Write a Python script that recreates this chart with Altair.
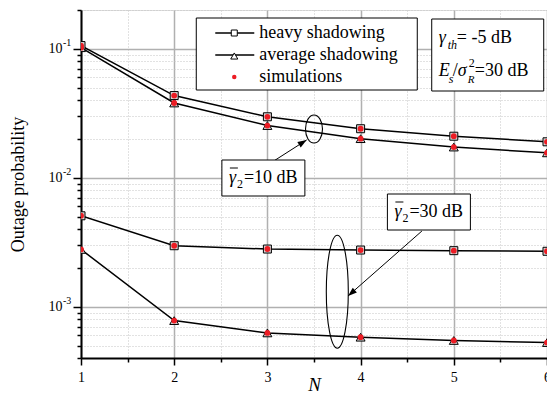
import altair as alt
import pandas as pd

# ---------------- data ----------------
N = [1, 2, 3, 4, 5, 6]
heavy_10 = [0.106, 0.0434, 0.0297, 0.0240, 0.0210, 0.0190]
average_10 = [0.102, 0.0380, 0.0254, 0.0201, 0.0173, 0.0156]
heavy_30 = [0.00507, 0.00297, 0.00280, 0.00275, 0.00272, 0.00269]
average_30 = [0.00278, 0.00078, 0.000626, 0.00058, 0.000547, 0.000527]

x_ticks = [1, 1.5, 2, 2.5, 3, 3.5, 4, 4.5, 5, 5.5, 6]
decades = [0.001, 0.01, 0.1]
decade_exp = ["-3", "-2", "-1"]
y_ticks = [0.0004, 0.0005, 0.0006, 0.0007, 0.0008, 0.0009,
           0.001, 0.002, 0.003, 0.004, 0.005, 0.006, 0.007, 0.008, 0.009,
           0.01, 0.02, 0.03, 0.04, 0.05, 0.06, 0.07, 0.08, 0.09,
           0.1, 0.2]

legend_labels = ["heavy shadowing", "average shadowing", "simulations"]

# annotation anchors (data coordinates)
ell_N = [3.5, 3.75]
ell_p = [0.02386, 0.001306]
arrow_N = [3.051, 4.658]
arrow_p = [0.01324, 0.003864]
arrow_N2 = [3.421, 3.865]
arrow_p2 = [0.01963, 0.001211]
arrow_angle = [57.8, 229.1]

SERIF = "Liberation Serif"
RED = "#ec1c24"

rows = []
for name, vals, model in [("h10", heavy_10, "heavy"), ("a10", average_10, "average"),
                          ("h30", heavy_30, "heavy"), ("a30", average_30, "average")]:
    for n, v in zip(N, vals):
        rows.append({"N": n, "p": v, "model": model, "curve": name})
df = pd.DataFrame(rows)

W, H = 466, 348
OX, OY = 81, 10  # plot origin on the page


def X(x):
    return OX + (x - OX) * W / 473.0


xscale = alt.Scale(domain=[1, 6], nice=False, zero=False)
yscale = alt.Scale(type="log", domain=[0.0004, 0.2], nice=False)

xmaj = "datum.value % 1 == 0"
ymaj = " || ".join(f"datum.value == {d}" for d in decades)

xaxis = alt.Axis(
    values=x_ticks,
    labelExpr=f"{xmaj} ? format(datum.value, 'd') : ''",
    tickSize={"condition": {"test": xmaj, "value": 7}, "value": 4},
    gridDash={"condition": {"test": xmaj, "value": []}, "value": [1, 2]},
    gridColor={"condition": {"test": xmaj, "value": "#b0b0b0"}, "value": "#c4c4c4"},
    gridWidth={"condition": {"test": xmaj, "value": 1.5}, "value": 1},
    grid=True, domainColor="black", domainWidth=2, tickColor="black", tickWidth=1.5,
    labelFont=SERIF, labelFontSize=14, labelColor="black", labelPadding=5,
    labelFlush=False, labelOverlap=False,
    title="N", titleFont=SERIF, titleFontSize=19, titleFontStyle="italic",
    titleFontWeight="normal", titleColor="black",
    titleX=W / 2, titleY=32, titleBaseline="alphabetic", titleAlign="center",
)
yaxis = alt.Axis(
    values=y_ticks,
    labelExpr=f"({ymaj}) ? '10' : ''",
    tickSize={"condition": {"test": ymaj, "value": 8}, "value": 4},
    gridDash={"condition": {"test": ymaj, "value": []}, "value": [1, 2]},
    gridColor={"condition": {"test": ymaj, "value": "#b0b0b0"}, "value": "#c4c4c4"},
    gridWidth={"condition": {"test": ymaj, "value": 1.5}, "value": 1},
    grid=True, domainColor="black", domainWidth=2, tickColor="black", tickWidth=1.5,
    labelFont=SERIF, labelFontSize=14, labelColor="black", labelPadding=11,
    labelFlush=False, labelOverlap=False, labelBaseline="middle",
    title="Outage probability", titleFont=SERIF, titleFontSize=18,
    titleFontWeight="normal", titleColor="black",
    titleX=-63, titleY=H / 2, titleAngle=-90, titleAlign="center", titleBaseline="middle",
)

base = alt.Chart(df).encode(
    x=alt.X("N:Q", scale=xscale, axis=xaxis, title="N"),
    y=alt.Y("p:Q", scale=yscale, axis=yaxis, title="Outage probability"),
)

lines = base.mark_line(color="black", strokeWidth=1.5, clip=True).encode(detail="curve:N")
squares = base.transform_filter("datum.model == 'heavy'").mark_point(
    shape="square", size=64, filled=True, fill="#d6d6d6", stroke="black",
    strokeWidth=1, opacity=1, clip=True)
triangles = base.transform_filter("datum.model == 'average'").mark_point(
    shape="triangle-up", size=80, filled=True, fill="#d6d6d6", stroke="black",
    strokeWidth=1, opacity=1, clip=True)
dots = base.mark_circle(size=34, color=RED, opacity=1, clip=True)

# y-axis superscripts
sup = alt.Chart(pd.DataFrame({"p": decades, "s": decade_exp})).mark_text(
    align="left", baseline="middle", font=SERIF, fontSize=10, dy=-6, color="black"
).encode(x=alt.value(-18), y=alt.Y("p:Q", scale=yscale), text="s:N")

# ellipses
k = 0.5523


def ellipse_path(a):
    return (f"M 0 -1 C {k*a:.4f} -1 {a:.4f} {-k:.4f} {a:.4f} 0 "
            f"C {a:.4f} {k:.4f} {k*a:.4f} 1 0 1 "
            f"C {-k*a:.4f} 1 {-a:.4f} {k:.4f} {-a:.4f} 0 "
            f"C {-a:.4f} {-k:.4f} {-k*a:.4f} -1 0 -1 Z")


ell_df = pd.DataFrame({"N": ell_N, "p": ell_p})
ell1 = alt.Chart(ell_df.iloc[[0]]).mark_point(
    shape=ellipse_path(17 / 28), size=28 * 28, filled=False, stroke="black",
    strokeWidth=1.1, opacity=1).encode(x=alt.X("N:Q", scale=xscale), y=alt.Y("p:Q", scale=yscale))
ell2 = alt.Chart(ell_df.iloc[[1]]).mark_point(
    shape=ellipse_path(22 / 113), size=113 * 113, filled=False, stroke="black",
    strokeWidth=1.1, opacity=1).encode(x=alt.X("N:Q", scale=xscale), y=alt.Y("p:Q", scale=yscale))

arr_df = pd.DataFrame({"N": arrow_N, "p": arrow_p, "N2": arrow_N2, "p2": arrow_p2,
                       "ang": arrow_angle})
arr_lines = alt.Chart(arr_df).mark_rule(color="black", strokeWidth=1).encode(
    x=alt.X("N:Q", scale=xscale), y=alt.Y("p:Q", scale=yscale), x2="N2:Q", y2="p2:Q")
arr_heads = alt.Chart(arr_df).mark_point(
    shape="M 0 0 L -0.35 1 L 0.35 1 Z", size=324, filled=True, color="black", opacity=1
).encode(x=alt.X("N2:Q", scale=xscale), y=alt.Y("p2:Q", scale=yscale),
         angle=alt.Angle("ang:Q", scale=None))

one = pd.DataFrame({"a": [0]})


def txt(s, x, y, size=18, style="normal"):
    return alt.Chart(one).mark_text(
        text=s, font=SERIF, fontSize=size, fontStyle=style, align="left",
        baseline="alphabetic", color="black").encode(x=alt.value(x - OX), y=alt.value(y - OY))


def box(x1, x2, y1, y2):
    return alt.Chart(one).mark_rect(fill="white", stroke="black", strokeWidth=1).encode(
        x=alt.value(x1 - OX), x2=alt.value(x2 - OX), y=alt.value(y1 - OY), y2=alt.value(y2 - OY))


def hline(x1, x2, y, w=1.5):
    return alt.Chart(one).mark_rule(color="black", strokeWidth=w).encode(
        x=alt.value(x1 - OX), x2=alt.value(x2 - OX), y=alt.value(y - OY))


def marker(shape, x, y, size, fill, stroke):
    m = alt.Chart(one).mark_point(shape=shape, size=size, filled=True, fill=fill,
                                  stroke=stroke, strokeWidth=1, opacity=1)
    return m.encode(x=alt.value(x - OX), y=alt.value(y - OY))


# legend
L = X(198)
rows_y = [33, 55, 77]
legend = [
    box(L, L + 221, 18, 90),
    hline(L + 19, L + 58, rows_y[0]), marker("square", L + 38, rows_y[0], 36, "white", "black"),
    hline(L + 19, L + 58, rows_y[1]), marker("triangle-up", L + 38, rows_y[1] + 1, 50, "white", "black"),
    alt.Chart(one).mark_circle(size=20, color=RED, opacity=1).encode(
        x=alt.value(L + 38 - OX), y=alt.value(rows_y[2] - OY)),
]
for lbl, yy in zip(legend_labels, rows_y):
    legend.append(alt.Chart(one).mark_text(
        text=lbl, font=SERIF, fontSize=18, align="left", baseline="middle", color="black"
    ).encode(x=alt.value(L + 63 - OX), y=alt.value(yy - OY)))

# parameter box
P = X(437)
params = [
    box(P, P + 112, 19, 91),
    txt("\u03b3", P + 7, 43, 18, "italic"),
    txt("th", P + 16, 49, 12, "italic"),
    txt("= -5 dB", P + 25, 43, 18),
    txt("E", P + 7, 76, 18, "italic"),
    txt("s", P + 17, 83, 12, "italic"),
    txt("/", P + 21, 76, 18),
    txt("\u03c3", P + 26, 76, 18, "italic"),
    txt("2", P + 37, 67, 12),
    txt("R", P + 36, 83, 11, "italic"),
    txt("=30 dB", P + 43, 76, 18),
]


def gbox(bx, dy, val):
    return [
        box(bx, bx + 83, 160 + dy, 196 + dy),
        txt("\u03b3", bx + 7, 183 + dy, 18, "italic"),
        hline(bx + 8, bx + 16, 168 + dy, 1),
        txt("2", bx + 15, 188 + dy, 12),
        txt(f"={val} dB", bx + 22, 183 + dy, 18),
    ]


annots = gbox(X(224), 0, 10) + gbox(X(392), 34, 30)

chart = alt.layer(
    lines, squares, triangles, dots, sup, ell1, ell2, arr_lines, arr_heads,
    *legend, *params, *annots
).properties(
    width=W, height=H,
    padding={"left": 73, "top": 2, "right": 0, "bottom": 35},
    autosize=alt.AutoSizeParams(type="none"),
).configure_view(stroke="#a8a8a8", strokeWidth=1.5).configure(background="white")

chart.save("out.html", embed_options={"renderer": "svg", "actions": False})
